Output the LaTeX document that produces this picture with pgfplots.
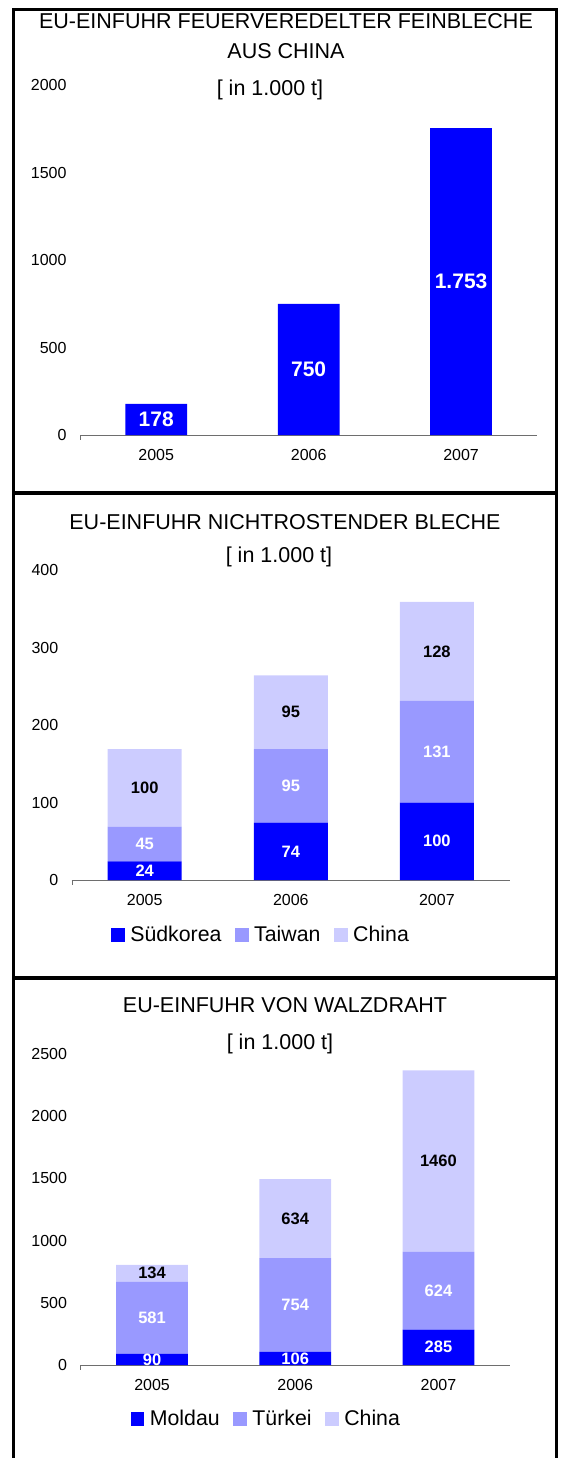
\documentclass[border=0pt]{standalone}
\usepackage{fontspec}
\setmainfont{Liberation Sans}
\usepackage{pgfplots}
\pgfplotsset{compat=1.18}

\definecolor{cBlue}{RGB}{0,0,255}
\definecolor{cMid}{RGB}{153,153,255}
\definecolor{cLight}{RGB}{204,204,255}
\definecolor{axgray}{RGB}{110,110,110}

\newcommand{\fs}[1]{\fontsize{#1}{#1}\selectfont}

\pgfplotsset{
  panel/.style={
    scale only axis,
    anchor=south west,
    xmin=-0.5, xmax=2.5, ymin=0,
    xtick={0,1,2}, xticklabels={2005,2006,2007},
    axis x line*=bottom, axis y line*=left,
    x axis line style={draw=axgray,-},
    y axis line style={draw=none},
    tick style={draw=axgray},
    major tick length=0pt,
    extra x ticks={-0.5}, extra x tick labels={},
    extra x tick style={major tick length=4.5pt, tick align=outside},
    /pgf/number format/assume math mode=true,
    /pgf/number format/1000 sep={},
    tick label style={font=\fs{16}},
    yticklabel style={anchor=east, inner sep=0pt, xshift=-13.3pt},
    xticklabel style={anchor=base, inner sep=0pt, yshift=-25.5pt},
    visualization depends on=rawy\as\rawy,
    clip=false,
  },
  sq/.style={legend image code/.code={\fill[##1] (0pt,-6.75pt) rectangle (13.5pt,6.75pt);}},
  leg/.style={
    legend columns=3,
    legend style={draw=none, fill=none, anchor=center, font=\fs{21.3},
      nodes={inner sep=0pt},
      /tikz/every odd column/.append style={column sep=5.5pt},
      /tikz/every even column/.append style={column sep=13.7pt}},
  },
}

\begin{document}
\begin{tikzpicture}
% frame
\draw[line width=3.3pt] (13.5pt,-1462pt) -- (13.5pt,-9.5pt) -- (556.5pt,-9.5pt) -- (556.5pt,-1462pt);
\draw[line width=4pt] (12pt,-493pt) -- (558pt,-493pt);
\draw[line width=4pt] (12pt,-978pt) -- (558pt,-978pt);

% Panel 1
\node[anchor=base, font=\fs{21.5}] at (286pt,-28.5pt) {EU-EINFUHR FEUERVEREDELTER FEINBLECHE};
\node[anchor=base, font=\fs{21.5}] at (286pt,-58.5pt) {AUS CHINA};
\node[anchor=base, font=\fs{21.5}] at (270pt,-96pt) {[ in 1.000 t]};
\begin{axis}[panel, at={(80pt,-435pt)}, width=457.3pt, height=350pt,
  ymax=2000, ytick={0,500,1000,1500,2000},
  ybar, bar width=61.7pt,
  nodes near coords={\pgfmathprintnumber[1000 sep={.}]{\rawy}},
  every node near coord/.append style={font=\fs{21}\bfseries, text=white, anchor=center, yshift={-0.0875*\rawy}},
]
\addplot[fill=cBlue, draw=none] coordinates {(0,178) (1,750) (2,1753)};
\end{axis}

% Panel 2
\node[anchor=base, font=\fs{21.5}] at (285pt,-529.5pt) {EU-EINFUHR NICHTROSTENDER BLECHE};
\node[anchor=base, font=\fs{21.5}] at (279pt,-562pt) {[ in 1.000 t]};
\begin{axis}[panel, leg, at={(71.7pt,-880pt)}, width=438.2pt, height=310pt,
  ymax=400, ytick={0,100,200,300,400},
  ybar stacked, bar width=74pt,
  nodes near coords={\pgfmathprintnumber{\rawy}},
  every node near coord/.append style={font=\fs{16.5}\bfseries, anchor=center},
  legend style={at={(0.430,-0.177)}},
]
\addplot[fill=cBlue, draw=none, forget plot, every node near coord/.append style={text=white}]
  coordinates {(0,24) (1,74) (2,100)};
\addplot[fill=cMid, draw=none, forget plot, every node near coord/.append style={text=white}]
  coordinates {(0,45) (1,95) (2,131)};
\addplot[fill=cLight, draw=none, forget plot, every node near coord/.append style={text=black}]
  coordinates {(0,100) (1,95) (2,128)};
\addlegendimage{sq, fill=cBlue, draw=none}
\addlegendentry{Südkorea}
\addlegendimage{sq, fill=cMid, draw=none}
\addlegendentry{Taiwan}
\addlegendimage{sq, fill=cLight, draw=none}
\addlegendentry{China}
\end{axis}

% Panel 3
\node[anchor=base, font=\fs{21.5}] at (285pt,-1012.5pt) {EU-EINFUHR VON WALZDRAHT};
\node[anchor=base, font=\fs{21.5}] at (280pt,-1049pt) {[ in 1.000 t]};
\begin{axis}[panel, leg, at={(80.5pt,-1365pt)}, width=429.5pt, height=311pt,
  ymax=2500, ytick={0,500,1000,1500,2000,2500},
  ybar stacked, bar width=71.7pt,
  nodes near coords={\pgfmathprintnumber{\rawy}},
  every node near coord/.append style={font=\fs{16.5}\bfseries, anchor=center},
  legend style={at={(0.4305,-0.1736)}},
]
\addplot[fill=cBlue, draw=none, forget plot, every node near coord/.append style={text=white}]
  coordinates {(0,90) (1,106) (2,285)};
\addplot[fill=cMid, draw=none, forget plot, every node near coord/.append style={text=white}]
  coordinates {(0,581) (1,754) (2,624)};
\addplot[fill=cLight, draw=none, forget plot, every node near coord/.append style={text=black}]
  coordinates {(0,134) (1,634) (2,1460)};
\addlegendimage{sq, fill=cBlue, draw=none}
\addlegendentry{Moldau}
\addlegendimage{sq, fill=cMid, draw=none}
\addlegendentry{Türkei}
\addlegendimage{sq, fill=cLight, draw=none}
\addlegendentry{China}
\end{axis}

\pgfresetboundingbox
\useasboundingbox (0pt,0pt) rectangle (564pt,-1458pt);
\end{tikzpicture}
\end{document}
